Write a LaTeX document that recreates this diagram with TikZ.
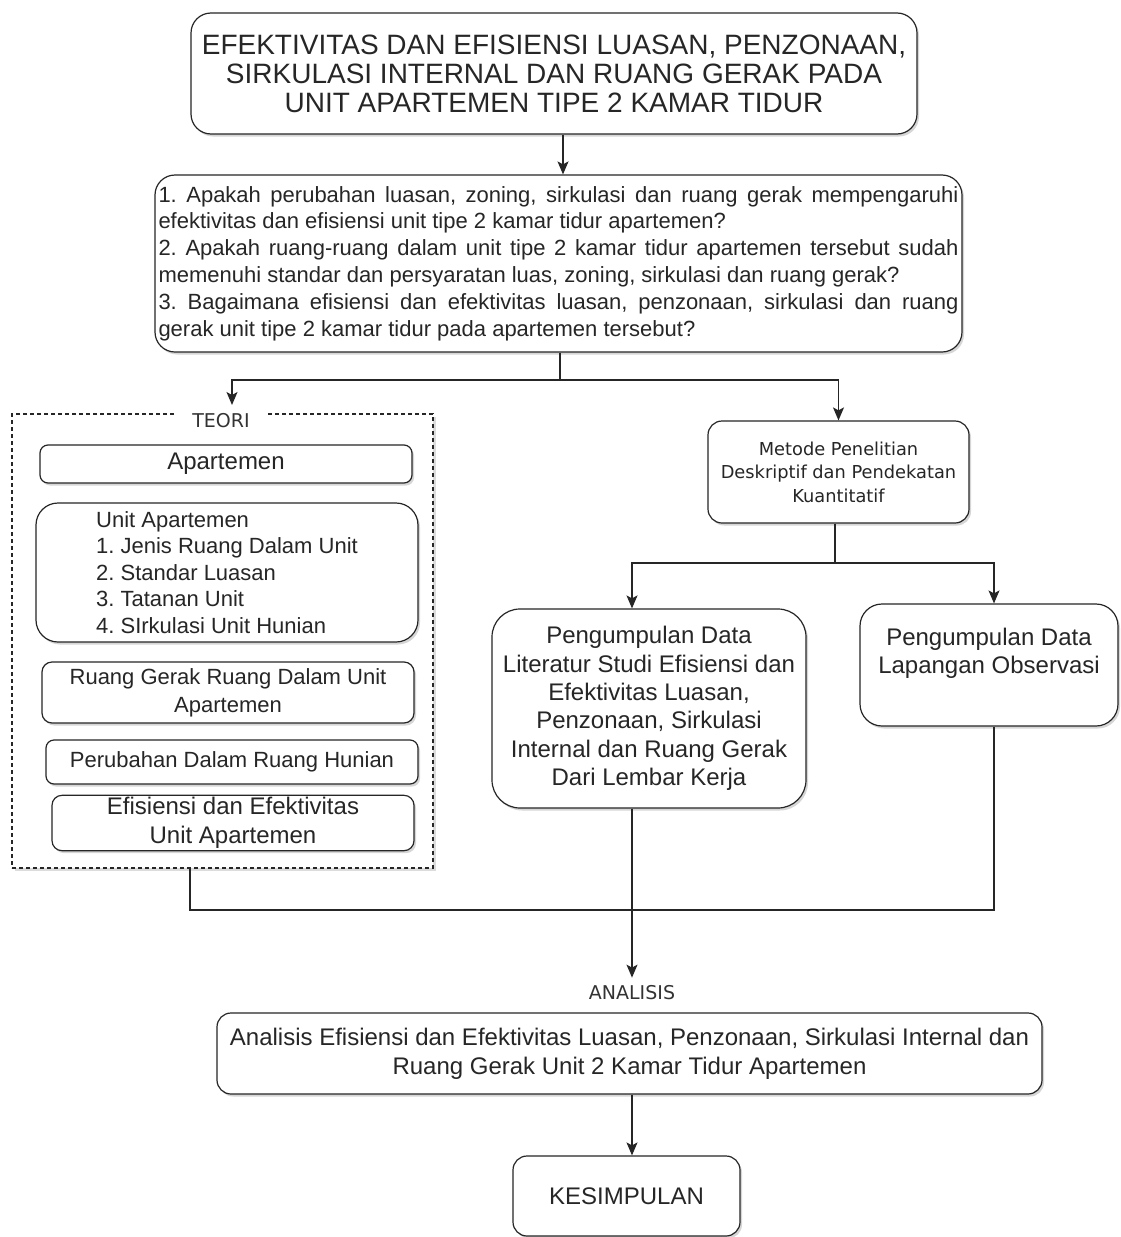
\documentclass[tikz,border=0pt]{standalone}
\usepackage{fontspec}
\setmainfont{Liberation Sans}
\newfontfamily\smallsans{DejaVu Sans}
\usetikzlibrary{arrows.meta,shadows}
\newcommand\setfs[2]{\fontsize{#1}{#2}\selectfont}
\frenchspacing
\begin{document}
\begin{tikzpicture}[x=1pt,y=-1pt,
  bx/.style={draw=black!85, line width=1.2pt, fill=white, rounded corners=#1,
    drop shadow={shadow xshift=2pt, shadow yshift=-2.5pt, fill=black!35, opacity=0.45},
    text=black!85, inner sep=2pt},
  bx/.default=12pt,
  arr/.style={line width=1.2pt, draw=black!85, -{Stealth[length=13pt,width=11pt,inset=3pt]}},
  ln/.style={line width=1.2pt, draw=black!85},
  lbl/.style={font=\smallsans\setfs{19}{21}, text=black!80, fill=white, inner sep=2pt}]
\useasboundingbox (0,0) rectangle (1121,1237);
\fill[white] (0,0) rectangle (1121,1237);

% title
\node[bx=20pt, minimum width=726pt, minimum height=121pt, align=center, font=\setfs{28}{29}] (title) at (554,73.5)
  {EFEKTIVITAS DAN EFISIENSI LUASAN, PENZONAAN,\\ SIRKULASI INTERNAL DAN RUANG GERAK PADA\\ UNIT APARTEMEN TIPE 2 KAMAR TIDUR};

% questions
\node[bx=20pt, minimum width=807pt, minimum height=177pt, align=left, font=\setfs{22}{26.8}] (q) at (558.5,263.5)
  {\makebox[800pt][s]{1. Apakah perubahan luasan, zoning, sirkulasi dan ruang gerak mempengaruhi}\\
   efektivitas dan efisiensi unit tipe 2 kamar tidur apartemen?\\
   \makebox[800pt][s]{2. Apakah ruang-ruang dalam unit tipe 2 kamar tidur apartemen tersebut sudah}\\
   memenuhi standar dan persyaratan luas, zoning, sirkulasi dan ruang gerak?\\
   \makebox[800pt][s]{3. Bagaimana efisiensi dan efektivitas luasan, penzonaan, sirkulasi dan ruang}\\
   gerak unit tipe 2 kamar tidur pada apartemen tersebut?};

% TEORI container
\node[draw=black!85, line width=1.2pt, dash pattern=on 4pt off 3pt, fill=white,
      drop shadow={shadow xshift=2.5pt, shadow yshift=-2.5pt, fill=black!30, opacity=0.45},
      minimum width=421pt, minimum height=454pt] (teori) at (222.5,641) {};
\node[lbl, inner xsep=16pt] (teorilbl) at (221,421) {TEORI};

\node[bx=8pt, minimum width=372pt, minimum height=38pt, font=\setfs{24}{26.5}] (apt) at (226,464) {Apartemen};
\node[bx=22pt, minimum width=382pt, minimum height=139pt, align=left, font=\setfs{22}{26.5}] (unit) at (227,572.5)
  {Unit Apartemen\\ 1. Jenis Ruang Dalam Unit\\ 2. Standar Luasan\\ 3. Tatanan Unit\\ 4. SIrkulasi Unit Hunian};
\node[bx=10pt, minimum width=372pt, minimum height=61pt, align=center, font=\setfs{22}{28}] (rg) at (228,692.5)
  {Ruang Gerak Ruang Dalam Unit\\ Apartemen};
\node[bx=8pt, minimum width=372pt, minimum height=44pt, font=\setfs{22}{26.5}] (per) at (232,762) {Perubahan Dalam Ruang Hunian};
\node[bx=10pt, minimum width=362pt, minimum height=54pt, align=center, font=\setfs{24}{29}] (efi) at (233,823)
  {Efisiensi dan Efektivitas\\ Unit Apartemen};

% method
\node[bx=14pt, minimum width=261pt, minimum height=102pt, align=center, font=\smallsans\setfs{17.8}{23.5}] (met) at (838.5,472)
  {Metode Penelitian\\ Deskriptif dan Pendekatan\\ Kuantitatif};
\node[bx=28pt, minimum width=314pt, minimum height=199pt, align=center, font=\setfs{24}{28.4}] (lit) at (649,708.5)
  {Pengumpulan Data\\ Literatur Studi Efisiensi dan\\ Efektivitas Luasan,\\ Penzonaan, Sirkulasi\\ Internal dan Ruang Gerak\\ Dari Lembar Kerja};
\node[bx=22pt, minimum width=258pt, minimum height=122pt, align=center, font=\setfs{24}{28}] (lap) at (989,665)
  {Pengumpulan Data\\ Lapangan Observasi\\ \mbox{}};

% analysis
\node[lbl] (anl) at (632,993) {ANALISIS};
\node[bx=14pt, minimum width=825pt, minimum height=81pt, align=center, font=\setfs{24}{29}] (an) at (629.5,1053.5)
  {Analisis Efisiensi dan Efektivitas Luasan, Penzonaan, Sirkulasi Internal dan\\ Ruang Gerak Unit 2 Kamar Tidur Apartemen};
\node[bx=14pt, minimum width=227pt, minimum height=80pt, font=\setfs{24}{26}] (kes) at (626.5,1196) {KESIMPULAN};

% connectors
\coordinate (tx) at (563,0);
\draw[arr] (title.south -| tx) -- (q.north -| tx);
\coordinate (qb) at (560,380);
\coordinate (tin) at (232,405);
\draw[ln] (q.south -| qb) -- (qb);
\draw[arr] (qb) -| (tin);
\draw[arr] (qb) -| (met.north);
\coordinate (mb) at (835,563);
\draw[ln] (met.south -| mb) -- (mb);
\draw[arr] (mb) -| ([xshift=-17pt]lit.north);
\draw[arr] (mb) -| ([xshift=5pt]lap.north);
\coordinate (jn) at (190,910);
\draw[ln] (teori.south -| jn) -- (jn) -| ([xshift=5pt]lap.south);
\draw[arr, shorten >=6pt] ([xshift=-17pt]lit.south) -- (anl.north);
\coordinate (ax) at (632,0);
\draw[arr] (an.south -| ax) -- (kes.north -| ax);
\end{tikzpicture}
\end{document}
